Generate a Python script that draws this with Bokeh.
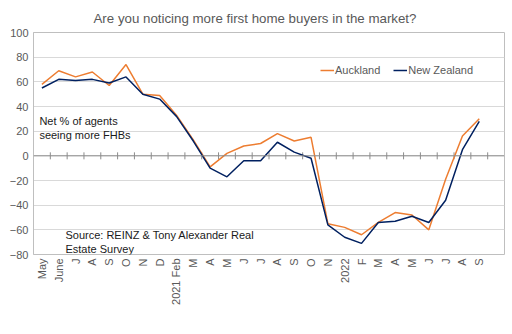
import numpy as np
from math import pi
from bokeh.plotting import figure
from bokeh.models import Range1d, FixedTicker, Span, Label, Legend, LegendItem
from bokeh.embed import file_html
from bokeh.resources import INLINE

months = ["May", "June", "J", "A", "S", "O", "N", "D", "2021 Feb", "M", "A", "M", "J",
          "J", "A", "S", "O", "N", "2022", "F", "M", "A", "M", "J", "J", "A", "S"]
auckland = [58, 69, 64, 68, 57, 74, 50, 49, 33, 13, -9, 2, 8, 10, 18, 12, 15,
            -55, -58, -64, -54, -46, -48, -60, -19, 16, 30]
new_zealand = [55, 62, 61, 62, 59, 64, 50, 46, 32, 12, -10, -17, -4, -4, 11, 3, -2,
               -56, -66, -71, -54, -53, -49, -54, -36, 5, 28]
y_ticks = [-80, -60, -40, -20, 0, 20, 40, 60, 80, 100]
n_slots = 28
title_text = "Are you noticing more first home buyers in the market?"

FONT = "Liberation Sans"
GREY = "#595959"

x = list(range(len(months)))

p = figure(width=512, height=334, output_backend="svg", toolbar_location=None,
           x_range=Range1d(-0.5, n_slots - 0.5), y_range=Range1d(-80, 100),
           min_border_left=33, min_border_right=8, min_border_top=32, min_border_bottom=80,
           background_fill_color="white", border_fill_color="white")

p.title.text = title_text
p.title.align = "left"
p.title.offset = 60
p.title.vertical_align = "top"
p.title.text_font = FONT
p.title.text_font_size = "13.3px"
p.title.text_font_style = "normal"
p.title.text_color = GREY

p.outline_line_color = "#bfbfbf"
p.outline_line_width = 1

# y axis
p.yaxis.ticker = FixedTicker(ticks=y_ticks)
p.yaxis.axis_line_color = "#bfbfbf"
p.yaxis.major_tick_line_color = None
p.yaxis.major_tick_out = 0
p.yaxis.major_tick_in = 0
p.yaxis.minor_tick_line_color = None
p.yaxis.major_label_standoff = 5
p.yaxis.major_label_text_font = FONT
p.yaxis.major_label_text_font_size = "11px"
p.yaxis.major_label_text_color = GREY

# x axis
p.xaxis.ticker = FixedTicker(ticks=x)
p.xaxis.major_label_overrides = {i: m for i, m in enumerate(months)}
p.xaxis.major_label_orientation = pi / 2
p.xaxis.axis_line_color = None
p.xaxis.major_tick_line_color = None
p.xaxis.major_tick_out = 0
p.xaxis.major_tick_in = 0
p.xaxis.minor_tick_line_color = None
p.xaxis.major_label_standoff = 4
p.xaxis.major_label_text_font = FONT
p.xaxis.major_label_text_font_size = "11px"
p.xaxis.major_label_text_color = GREY

p.xgrid.grid_line_color = None
p.ygrid.ticker = FixedTicker(ticks=y_ticks)
p.ygrid.grid_line_color = "#d9d9d9"

# zero axis line with category boundary ticks
p.add_layout(Span(location=0, dimension="width", line_color="#8c8c8c", line_width=1))
bounds = np.arange(0.5, len(months), 1.0)
p.scatter(bounds, np.zeros_like(bounds), marker="dash", angle=pi / 2, size=7,
          line_color="#8c8c8c", line_width=1)

r_a = p.line(x, auckland, line_color="#ED7D31", line_width=1.5)
r_n = p.line(x, new_zealand, line_color="#002060", line_width=1.5)

legend = Legend(items=[LegendItem(label="Auckland", renderers=[r_a]),
                       LegendItem(label="New Zealand", renderers=[r_n])],
                orientation="horizontal", location=(287, 177),
                padding=0, margin=0, spacing=13, glyph_width=14, glyph_height=14,
                label_height=14, label_standoff=1,
                label_text_font=FONT, label_text_font_size="11px", label_text_color=GREY,
                background_fill_alpha=0, border_line_color=None)
p.add_layout(legend)

p.add_layout(Label(x=-0.15, y=33, text="Net % of agents\nseeing more FHBs",
                   text_font=FONT, text_font_size="11px", text_color="#1a1a1a",
                   text_baseline="top", text_line_height=1.12))
p.add_layout(Label(x=1.4, y=-59, text="Source: REINZ & Tony Alexander Real\nEstate Survey",
                   text_font=FONT, text_font_size="11px", text_color="#1a1a1a",
                   text_baseline="top", text_line_height=1.2))

open("out.html", "w").write(file_html(p, INLINE))
